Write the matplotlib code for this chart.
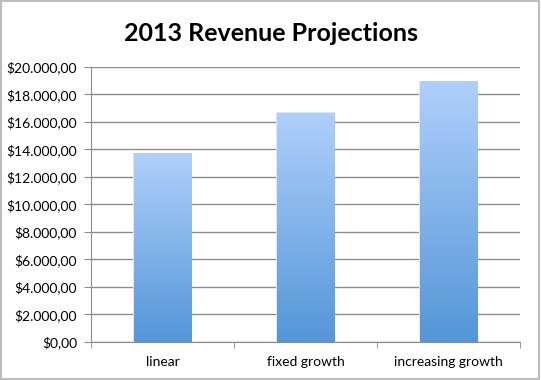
import numpy as np
import matplotlib
matplotlib.use("Agg")
import matplotlib.pyplot as plt
from matplotlib.colors import LinearSegmentedColormap
from matplotlib.ticker import FuncFormatter, MultipleLocator
from matplotlib.patches import Rectangle

# data
categories = ["linear", "fixed growth", "increasing growth"]
revenue = [13720, 16640, 18910]
title = "2013 Revenue Projections"

plt.rcParams['font.family'] = ['Lato', 'DejaVu Sans']

fig = plt.figure(figsize=(5.41, 3.80), dpi=100)
ax = fig.add_axes([0.168, 0.10, 0.793, 0.7237])

# light border around the whole figure
fig.patches.append(Rectangle((0.002, 0.003), 0.995, 0.994, transform=fig.transFigure,
                             fill=False, edgecolor="#bdbdbd", linewidth=1.5))

x = np.arange(len(categories))
bars = ax.bar(x, revenue, width=0.40, facecolor="none", edgecolor="none", zorder=3)

# vertical gradient, light at top, darker at bottom
cmap = LinearSegmentedColormap.from_list("grad", ["#5496d8", "#afd0fb"])
grad = np.linspace(0, 1, 256).reshape(-1, 1)
for b in bars:
    x0, y0 = b.get_x(), b.get_y()
    w, h = b.get_width(), b.get_height()
    # soft shadow
    ax.add_patch(Rectangle((x0 - 0.008, y0), w + 0.016, h + 60, facecolor="#e6e6e6",
                           edgecolor="none", zorder=2.5))
    ax.imshow(grad, cmap=cmap, origin="lower", aspect="auto",
              extent=(x0, x0 + w, y0, y0 + h), zorder=3)

ax.set_xlim(-0.5, len(categories) - 0.5)
ax.set_ylim(0, 20000)
ax.yaxis.set_major_locator(MultipleLocator(2000))

def money(v, pos):
    s = f"${v:,.2f}"
    return s.replace(",", "X").replace(".", ",").replace("X", ".")

ax.yaxis.set_major_formatter(FuncFormatter(money))
ax.grid(axis="y", color="#8c8c8c", linewidth=1.0, zorder=1)
ax.set_axisbelow(True)

ax.set_xticks(x)
ax.set_xticklabels(categories)
ax.set_xticks(np.arange(-0.5, len(categories)), minor=True)
ax.tick_params(axis="x", which="major", length=0, pad=10, labelsize=10)
ax.tick_params(axis="x", which="minor", length=4, color="#8c8c8c", direction="out")
ax.tick_params(axis="y", length=5, color="#8c8c8c", labelsize=10, pad=5)

for side in ["top", "right"]:
    ax.spines[side].set_visible(False)
ax.spines["left"].set_color("#8c8c8c")
ax.spines["bottom"].set_color("#8c8c8c")

fig.text(0.5, 0.913, title, ha="center", va="center", fontsize=18, fontweight="bold")

fig.savefig("out.png", dpi=100)
